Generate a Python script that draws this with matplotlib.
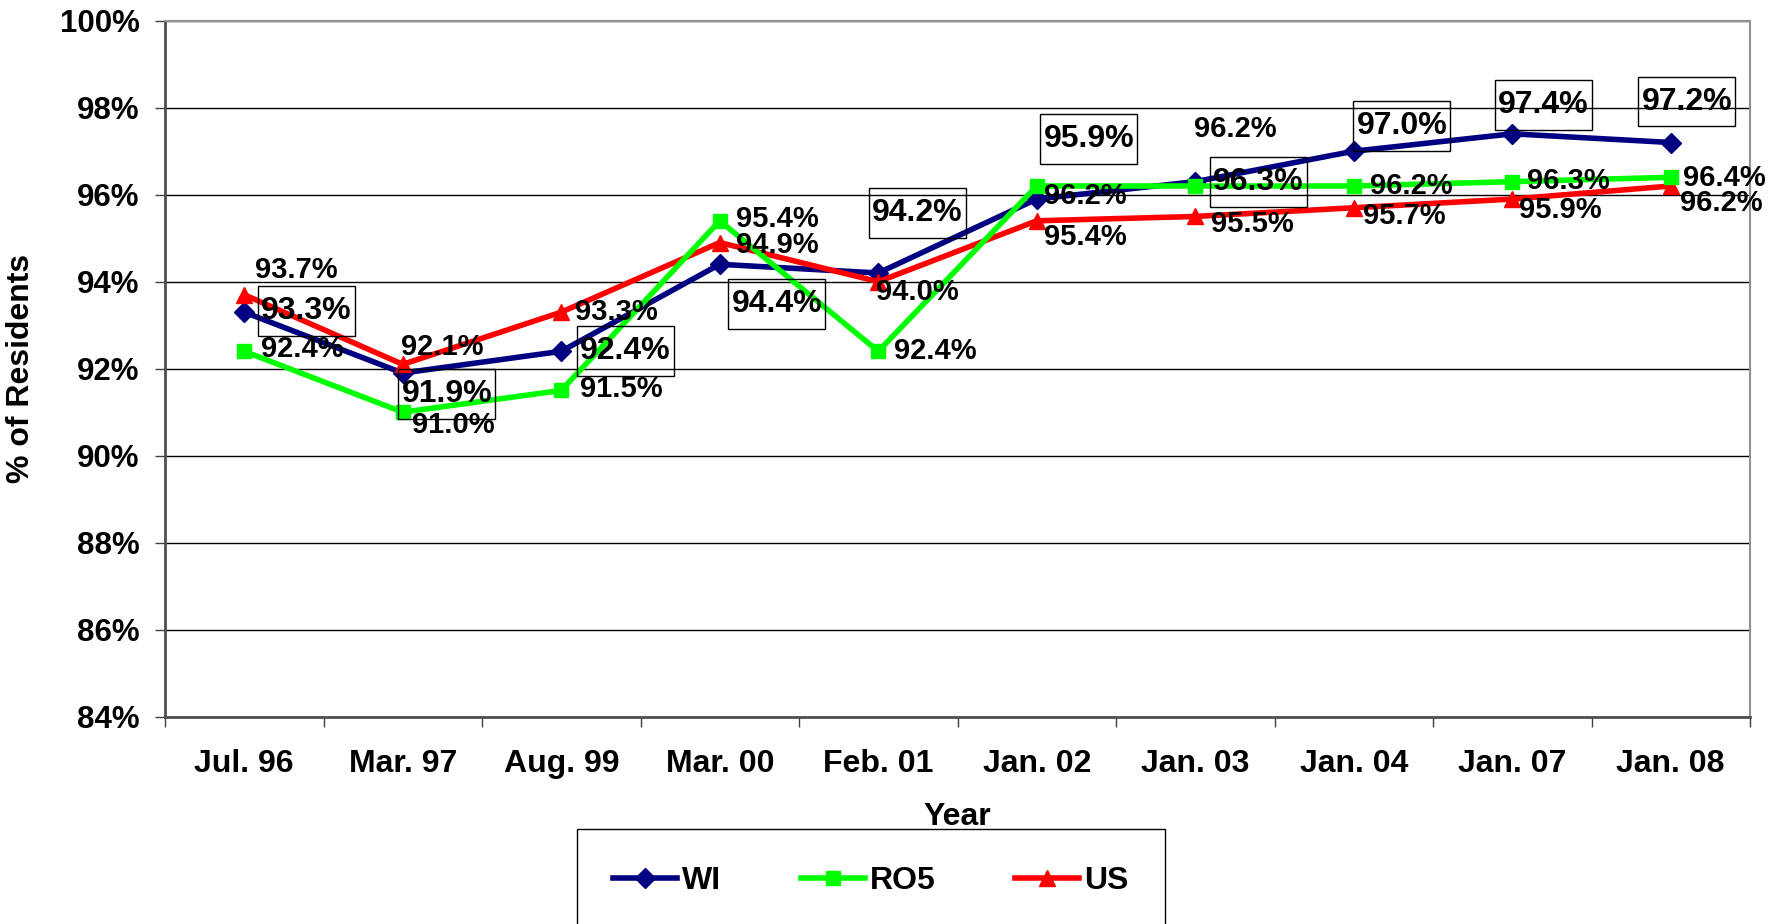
import matplotlib
matplotlib.use("Agg")
import matplotlib.pyplot as plt
from matplotlib.path import Path
from matplotlib.lines import Line2D

plt.rcParams['font.family'] = ['Liberation Sans', 'DejaVu Sans']
plt.rcParams['font.weight'] = 'bold'

categories = ["Jul. 96", "Mar. 97", "Aug. 99", "Mar. 00", "Feb. 01",
              "Jan. 02", "Jan. 03", "Jan. 04", "Jan. 07", "Jan. 08"]
wi = [93.3, 91.9, 92.4, 94.4, 94.2, 95.9, 96.3, 97.0, 97.4, 97.2]
ro5 = [92.4, 91.0, 91.5, 95.4, 92.4, 96.2, 96.2, 96.2, 96.3, 96.4]
us = [93.7, 92.1, 93.3, 94.9, 94.0, 95.4, 95.5, 95.7, 95.9, 96.2]
y_ticks = [84, 86, 88, 90, 92, 94, 96, 98, 100]

# label offsets in pixels (dx, dy with dy positive = down in image)
wi_off = [(62, -1), (44, 21), (64, 0), (57, 40), (39, -60), (52, -60),
          (63, 0), (48, -25), (31, -29), (16, -41)]
ro5_off = [(58, -2), (51, 13), (60, -1), (58, -2), (57, 0), (49, 10),
           (40, -57), (58, 0), (56, -1), (54, 1)]
us_off = [(52, -25), (40, -17), (55, 0), (58, 2), (39, 10), (49, 16),
          (57, 8), (51, 8), (48, 11), (51, 17)]

NAVY = "#000080"
GREEN = "#00FF00"
RED = "#FF0000"


def tall_box(x0, y0, width, height, mutation_size):
    px = 0.1 * mutation_size
    py = 0.31 * mutation_size
    verts = [(x0 - px, y0 - py), (x0 + width + px, y0 - py),
             (x0 + width + px, y0 + height + py), (x0 - px, y0 + height + py),
             (x0 - px, y0 - py)]
    codes = [Path.MOVETO, Path.LINETO, Path.LINETO, Path.LINETO, Path.CLOSEPOLY]
    return Path(verts, codes)


fig = plt.figure(figsize=(17.88, 9.24), dpi=100)
ax = fig.add_axes([165 / 1788, 1 - 716.7 / 924, (1750 - 165) / 1788, (716.7 - 20.7) / 924])

x = list(range(len(categories)))

ax.plot(x, wi, color=NAVY, lw=4, marker='D', ms=10, zorder=3, label="WI")
ax.plot(x, us, color=RED, lw=4, marker='^', ms=11, zorder=4, label="US")
ax.plot(x, ro5, color=GREEN, lw=4, marker='s', ms=10.5, zorder=5, label="RO5")

for xi, v, (dx, dy) in zip(x, wi, wi_off):
    ax.annotate(f"{v:.1f}%", (xi, v), xytext=(dx, -dy), textcoords='offset pixels',
                ha='center', va='center', fontsize=23, fontweight='bold', zorder=10,
                bbox=dict(boxstyle=tall_box, fc='none', ec='black', lw=1))
for xi, v, (dx, dy) in zip(x, ro5, ro5_off):
    ax.annotate(f"{v:.1f}%", (xi, v), xytext=(dx, -dy), textcoords='offset pixels',
                ha='center', va='center', fontsize=21, fontweight='bold', zorder=10)
for xi, v, (dx, dy) in zip(x, us, us_off):
    ax.annotate(f"{v:.1f}%", (xi, v), xytext=(dx, -dy), textcoords='offset pixels',
                ha='center', va='center', fontsize=21, fontweight='bold', zorder=10)

ax.set_xlim(-0.5, len(categories) - 0.5)
ax.set_ylim(84, 100)
ax.set_yticks(y_ticks)
ax.set_yticklabels([f"{t}%" for t in y_ticks], fontsize=22.5, fontweight='bold')
ax.yaxis.grid(True, color='black', lw=1)
ax.set_axisbelow(True)

ax.set_xticks([i - 0.5 for i in range(len(categories) + 1)])
ax.set_xticklabels([])
ax.set_xticks(x, minor=True)
ax.set_xticklabels(categories, minor=True, fontsize=23, fontweight='bold')
ax.tick_params(axis='x', which='major', length=7.2, width=1, color='#404040', direction='out')
ax.tick_params(axis='x', which='minor', length=0, pad=23)
ax.tick_params(axis='y', length=7.2, width=1, color='#404040', direction='out', pad=11)

for s in ['left', 'bottom']:
    ax.spines[s].set_color('#505050')
    ax.spines[s].set_linewidth(2)
for s in ['right', 'top']:
    ax.spines[s].set_color('#909090')
    ax.spines[s].set_linewidth(1.5)

ax.set_ylabel("% of Residents", fontsize=23, fontweight='bold')
ax.yaxis.set_label_coords(-0.0814, 0.5)
ax.set_xlabel("Year", fontsize=23, fontweight='bold')
ax.xaxis.set_label_coords(0.5, -0.123)

handles = [
    Line2D([], [], color=NAVY, lw=4, marker='D', ms=10),
    Line2D([], [], color=GREEN, lw=4, marker='s', ms=10.5),
    Line2D([], [], color=RED, lw=4, marker='^', ms=11),
]
leg = fig.legend(handles, ["WI", "RO5", "US"], loc='center', bbox_to_anchor=(0.487, 0.0465),
                 ncol=3, prop={'weight': 'bold', 'size': 23},
                 frameon=True, fancybox=False, edgecolor='black', framealpha=1,
                 handlelength=2.0, handletextpad=0.15, columnspacing=2.5, borderpad=1.15)
leg.get_frame().set_linewidth(1)

fig.savefig("out.png", dpi=100)
